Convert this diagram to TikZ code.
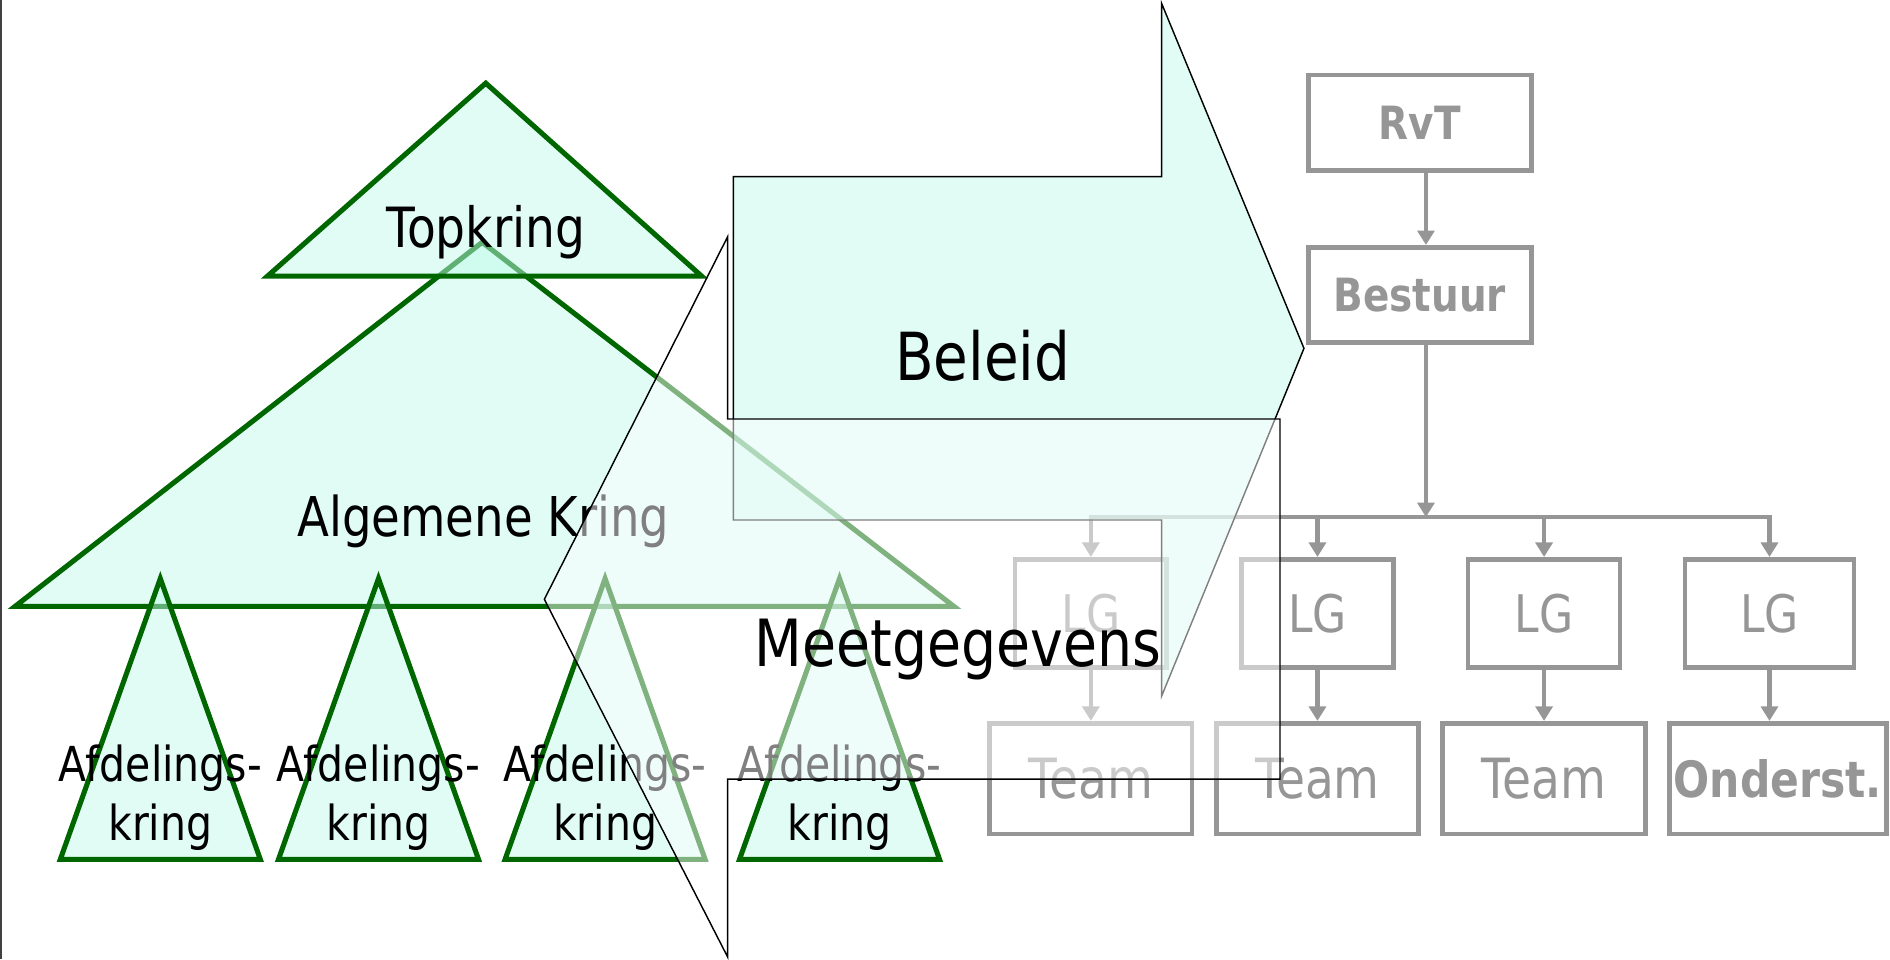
\documentclass[tikz,border=0pt]{standalone}
\usepackage{fontspec}
\setmainfont{DejaVu Sans}[FakeStretch=0.85]
\usepackage{tikz}
\usetikzlibrary{arrows.meta,positioning}

\definecolor{mint}{RGB}{193,250,234}
\definecolor{kringgroen}{RGB}{0,102,0}
\definecolor{orggrijs}{RGB}{150,150,150}

\begin{document}
\begin{tikzpicture}[x=1pt,y=-1pt,>={Triangle[length=12pt,width=14pt]},node distance=188pt,
  kring shape/.style={fill=mint,fill opacity=.5,draw=kringgroen,line width=4.2pt},
  arrow shape/.style={draw=black,line width=1.2pt},
  text node/.style={anchor=base,text=black,inner sep=0pt},
  main node/.style={rectangle,draw=orggrijs,line width=3.9pt,text=orggrijs,inner sep=0pt,
    minimum width=126pt,minimum height=90pt,font=\fontsize{43}{50}\selectfont},
  team node/.style={main node,minimum width=168pt,minimum height=92pt,font=\fontsize{46}{52}\selectfont},
  top node/.style={main node,minimum width=185pt,minimum height=79pt,font=\fontsize{38}{44}\selectfont\bfseries}]

  \useasboundingbox (0,0) rectangle (1568,796);
  \draw [line width=1.5pt,black!75] (1,0) -- (1,796);

  \node[top node] (1) at (1178,101.7) {RvT};
  \node[top node] (2) [node distance=143pt,below of=1] {Bestuur};

  \node[main node] (3) at (905,509) {LG};
  \node[main node] (4) [right of=3] {LG};
  \node[main node] (5) [right of=4] {LG};
  \node[main node,minimum width=140pt] (6) [node distance=187pt,right of=5] {LG};

  \node[team node] (7) [node distance=137pt,below of=3] {Team};
  \node[team node] (8) [node distance=137pt,below of=4] {Team};
  \node[team node] (9) [node distance=137pt,below of=5] {Team};
  \node[team node,minimum width=180pt,font=\fontsize{41.5}{48}\selectfont\bfseries] (10) [node distance=137pt,below of=6,xshift=7pt] {Onderst.};

  \coordinate (b) at (1183,429);

\begin{scope}[color=orggrijs,line width=3.8pt]
\draw [->] ([xshift=5pt]1.south) -- ([xshift=5pt]2.north);
\draw [->] ([xshift=5pt]2.south) -- (b);
\draw [->] (4 |- b) -| (3);
\draw [->] (5 |- b) -| (6);
\draw (4 |- b) -- (5 |- b);
\draw [->] (4 |- b) -- (4);
\draw [->] (5 |- b) -- (5);
\draw [->] (3) -- (7);
\draw [->] (4) -- (8);
\draw [->] (5) -- (9);
\draw [->] (6) -- (6 |- 10.north);
\end{scope}

  \draw [kring shape] (400,201) -- (12.6,503) -- (791.3,503) -- cycle;
  \draw [kring shape] (403,69) -- (222,229) -- (582,229) -- cycle;
  \foreach \x in {133,314,502,696.5}
    \draw [kring shape] (\x,480) -- ++(-83,233) -- ++(166,0) -- cycle;

  \node[text node,font=\fontsize{46}{53}\selectfont] (11) at (403,205.7) {Topkring};
  \node[text node,font=\fontsize{45.5}{53}\selectfont] (12) at (401,445.2) {Algemene Kring};
  \foreach \x [count=\i from 13] in {133,314,502,696.5}
    \node[text node,align=center,font=\fontsize{40}{48.4}\selectfont] (\i) at (\x,696.9) {Afdelings-\\kring};

  \draw [arrow shape,fill=mint,fill opacity=.5] (608.4,146.6) -- (963.7,146.6) -- (963.7,2.8) -- (1081.8,289)
    -- (963.7,577.5) -- (963.7,431.4) -- (608.4,431.4) -- cycle;
  \node[text node,font=\fontsize{55}{66}\selectfont] (17) at (815.3,315.3) {Beleid};

  \draw [arrow shape,fill=white,fill opacity=.5] (451.6,497.2) -- (603.7,196.3) -- (603.7,347.6) -- (1061.9,347.6)
    -- (1061.9,646.3) -- (603.7,646.3) -- (603.7,794) -- cycle;
  \node[text node,font=\fontsize{54}{64}\selectfont] (18) at (794.8,553) {Meetgegevens};

\end{tikzpicture}
\end{document}
